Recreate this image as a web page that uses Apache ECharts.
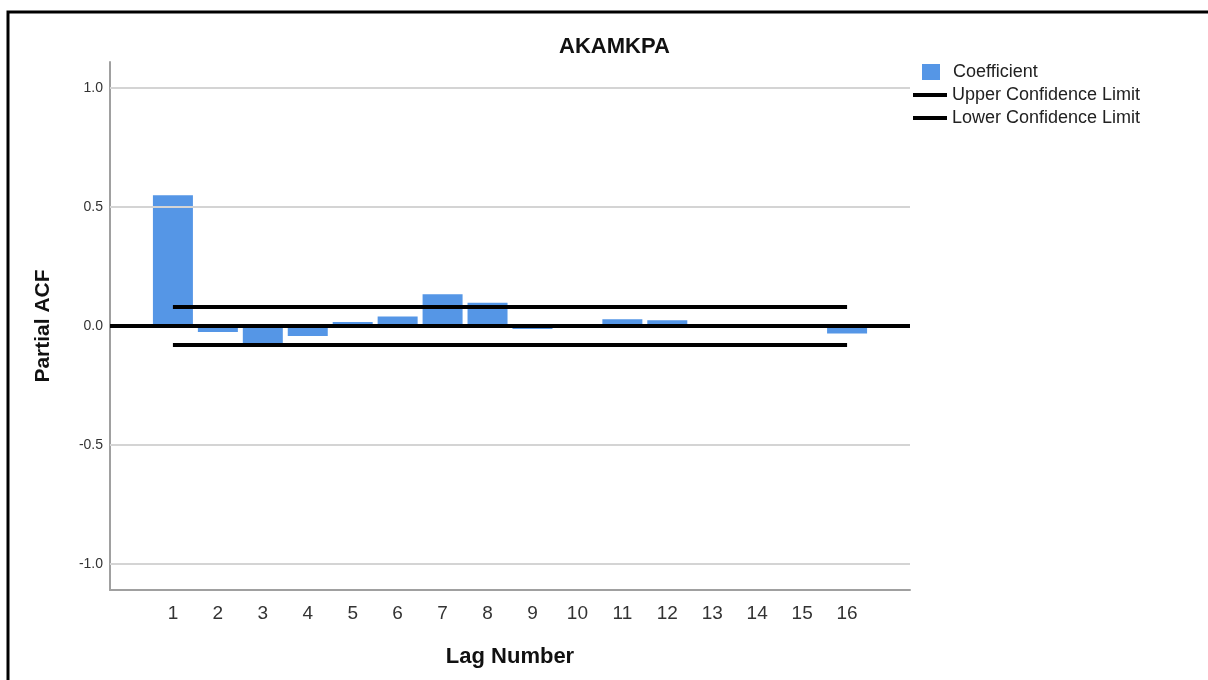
<!DOCTYPE html>
<html>
<head>
<meta charset="utf-8">
<script src="https://cdn.jsdelivr.net/npm/echarts@6/dist/echarts.min.js"></script>
<style>
html,body{margin:0;padding:0;background:#fff;}
#chart{width:1208px;height:680px;}
</style>
</head>
<body>
<div id="chart"></div>
<script>
// ---- data ----
const TITLE = 'AKAMKPA';
const LAGS = [1,2,3,4,5,6,7,8,9,10,11,12,13,14,15,16];
const COEFFICIENT = [0.55,-0.025,-0.074,-0.042,0.017,0.040,0.133,0.098,-0.013,0.008,0.028,0.024,0.0,0.0,0.0,-0.032];
const UPPER_LIMIT = 0.08;
const LOWER_LIMIT = -0.08;
const Y_TICKS = [-1.0,-0.5,0.0,0.5,1.0];
const GRID_LINES = [-1.0,-0.5,0.5,1.0];

const FONT = '"Liberation Sans", Arial, sans-serif';
const chart = echarts.init(document.getElementById('chart'));

const barData = LAGS.map((l,i)=>[l, COEFFICIENT[i]]);
const firstLag = LAGS[0], lastLag = LAGS[LAGS.length-1];

const option = {
  animation:false,
  backgroundColor:'#ffffff',
  textStyle:{fontFamily:FONT},
  graphic:[{
    type:'rect', silent:true, z:100,
    shape:{x:8,y:12,width:1400,height:900},
    style:{fill:null, stroke:'#000', lineWidth:3}
  }],
  title:{
    text:TITLE, left:554, top:31,
    textStyle:{fontFamily:FONT,fontSize:22,fontWeight:'bold',color:'#111'}
  },
  legend:[{
    data:[{name:'Coefficient',icon:'rect'}], left:922, top:63, padding:0,
    itemWidth:18, itemHeight:16, selectedMode:false,
    textStyle:{fontFamily:FONT,fontSize:18,color:'#222',padding:[0,0,0,8]}
  },{
    data:[{name:'Upper Confidence Limit',icon:'rect'},{name:'Lower Confidence Limit',icon:'rect'}],
    orient:'vertical', left:913, top:86, padding:0,
    itemWidth:34, itemHeight:4, itemGap:5, selectedMode:false,
    itemStyle:{color:'#000'},
    textStyle:{fontFamily:FONT,fontSize:18,color:'#222'}
  }],
  grid:{left:110,right:298,top:62,bottom:90,containLabel:false},
  xAxis:{
    type:'value', min:-0.4, max:17.4,
    name:'Lag Number', nameLocation:'middle', nameGap:56,
    nameTextStyle:{fontFamily:FONT,fontSize:22,fontWeight:'bold',color:'#111'},
    axisLine:{show:true,onZero:false,lineStyle:{color:'#a0a0a0',width:2}},
    axisTick:{show:false},
    splitLine:{show:false},
    axisLabel:{customValues:LAGS, margin:14, fontFamily:FONT, fontSize:19, color:'#333'}
  },
  yAxis:{
    type:'value', min:-1.11, max:1.11,
    name:'Partial ACF', nameLocation:'middle', nameGap:56, nameRotate:90,
    nameTextStyle:{fontFamily:FONT,fontSize:21,fontWeight:'bold',color:'#111'},
    axisLine:{show:true,onZero:false,lineStyle:{color:'#a0a0a0',width:2}},
    axisTick:{show:false},
    splitLine:{show:false},
    axisLabel:{customValues:Y_TICKS, margin:7, fontFamily:FONT, fontSize:14, color:'#333',
      formatter:v=>v.toFixed(1)}
  },
  series:[
    {
      name:'gridlines', type:'line', data:[], silent:true, z:1,
      markLine:{silent:true, symbol:'none', label:{show:false},
        lineStyle:{color:'#d4d4d4',width:2,type:'solid'},
        data:GRID_LINES.map(v=>({yAxis:v}))}
    },
    {
      name:'Coefficient', type:'bar', data:barData, barWidth:40, z:2,
      itemStyle:{color:'#5596e6'}
    },
    {
      name:'Upper Confidence Limit', type:'line', z:4,
      data:[[firstLag,UPPER_LIMIT],[lastLag,UPPER_LIMIT]],
      symbol:'none', lineStyle:{color:'#000',width:4}, itemStyle:{color:'#000'}
    },
    {
      name:'Lower Confidence Limit', type:'line', z:4,
      data:[[firstLag,LOWER_LIMIT],[lastLag,LOWER_LIMIT]],
      symbol:'none', lineStyle:{color:'#000',width:4}, itemStyle:{color:'#000'}
    },
    {
      name:'zero', type:'line', data:[], silent:true, z:5,
      markLine:{silent:true, symbol:'none', label:{show:false},
        lineStyle:{color:'#000',width:4,type:'solid'},
        data:[{yAxis:0}]}
    }
  ]
};
chart.setOption(option);
</script>
</body>
</html>
